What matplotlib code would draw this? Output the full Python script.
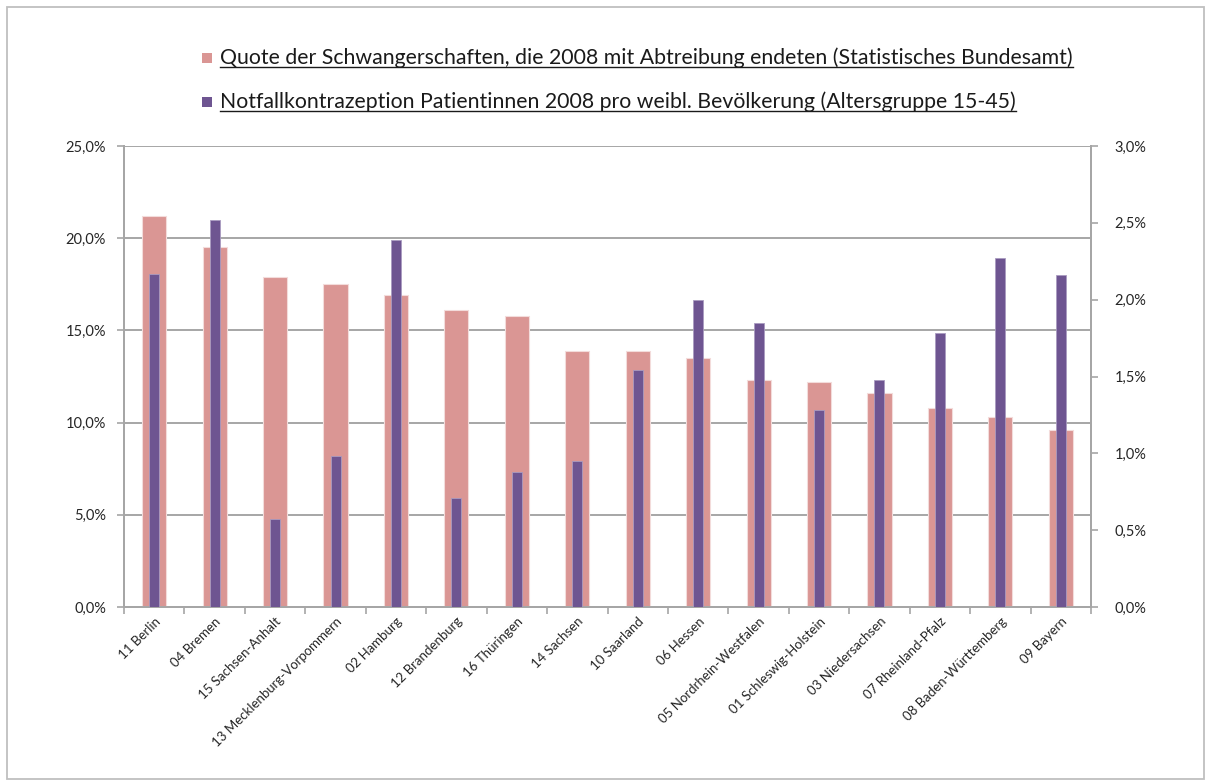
import matplotlib
matplotlib.use("Agg")
import matplotlib.pyplot as plt
from matplotlib.lines import Line2D
from matplotlib.patches import Rectangle
import numpy as np

categories = ["11 Berlin", "04 Bremen", "15 Sachsen-Anhalt", "13 Mecklenburg-Vorpommern",
              "02 Hamburg", "12 Brandenburg", "16 Thüringen", "14 Sachsen", "10 Saarland",
              "06 Hessen", "05 Nordrhein-Westfalen", "01 Schleswig-Holstein",
              "03 Niedersachsen", "07 Rheinland-Pfalz", "08 Baden-Württemberg", "09 Bayern"]
abortion_rate = [21.2, 19.5, 17.9, 17.5, 16.9, 16.1, 15.8, 13.9, 13.9, 13.5, 12.3, 12.2,
                 11.6, 10.8, 10.3, 9.6]
emergency_contraception = [2.17, 2.52, 0.57, 0.98, 2.39, 0.71, 0.88, 0.95, 1.54, 2.00,
                           1.85, 1.28, 1.48, 1.78, 2.27, 2.16]
left_ticks = [0, 5, 10, 15, 20, 25]
right_ticks = [0, 0.5, 1.0, 1.5, 2.0, 2.5, 3.0]
legend_labels = ["Quote der Schwangerschaften, die 2008 mit Abtreibung endeten (Statistisches Bundesamt)",
                 "Notfallkontrazeption Patientinnen 2008 pro weibl. Bevölkerung (Altersgruppe 15-45)"]

PINK = "#DA9694"
PURPLE = "#6E5591"
GRID = "#A6A6A6"
FONT = "Lato"

W, H = 1209, 783
fig = plt.figure(figsize=(W / 100, H / 100), dpi=100)
fig.patch.set_facecolor("white")

# chart area border
fig.add_artist(Rectangle((7 / W, 4 / H), (1204 - 7) / W, (776 - 4) / H, transform=fig.transFigure,
                         fill=False, edgecolor="#BFBFBF", linewidth=1.3))

ax = fig.add_axes([124 / W, 1 - 607 / H, (1091 - 124) / W, (607 - 146) / H])
ax2 = ax.twinx()
ax.set_zorder(1)
ax2.set_zorder(2)
ax.patch.set_visible(False)
ax2.patch.set_visible(False)

x = np.arange(len(categories))
ax.bar(x, abortion_rate, width=0.40, color=PINK, edgecolor="#F3DCDB", linewidth=0.8, zorder=3)
ax2.bar(x, emergency_contraception, width=0.165, color=PURPLE, edgecolor="#A99BC0", linewidth=0.6, zorder=3)

ax.set_xlim(-0.5, len(categories) - 0.5)
ax.set_ylim(0, 25)
ax2.set_ylim(0, 3.0)

ax.set_yticks(left_ticks)
ax.set_yticklabels([f"{v:.1f}%".replace(".", ",") for v in left_ticks], fontsize=10.5, family=FONT, color="#262626")
ax2.set_yticks(right_ticks)
ax2.set_yticklabels([f"{v:.1f}%".replace(".", ",") for v in right_ticks], fontsize=10.5, family=FONT, color="#262626")

ax.yaxis.grid(True, color=GRID, linewidth=1.4, zorder=0)
ax.set_axisbelow(True)

# x ticks at boundaries, labels at centers
ax.set_xticks(np.arange(len(categories) + 1) - 0.5)
ax.set_xticklabels([])
ax.set_xticks(x, minor=True)
ax.set_xticklabels(categories, minor=True, rotation=45, ha="right", va="top",
                   rotation_mode="anchor", fontsize=9.5, family=FONT, color="#262626")
ax.tick_params(axis="x", which="minor", length=0, pad=6)
ax.tick_params(axis="x", which="major", length=5, color=GRID, width=1.2)
ax.tick_params(axis="y", length=5, color=GRID, width=1.2, pad=8)
ax2.tick_params(axis="y", length=5, color=GRID, width=1.2, pad=12)

for a in (ax, ax2):
    for s in a.spines.values():
        s.set_color(GRID)
        s.set_linewidth(1.4)
    a.spines["top"].set_visible(False)

# legend with underlined text
fig.canvas.draw()
renderer = fig.canvas.get_renderer()
legend_y = [58, 102]
colors = [PINK, PURPLE]
for lbl, yy, c in zip(legend_labels, legend_y, colors):
    fig.add_artist(Rectangle((202 / W, 1 - (yy + 5) / H), 10 / W, 10 / H, transform=fig.transFigure,
                             facecolor=c, edgecolor="none"))
    t = fig.text(220 / W, 1 - yy / H, lbl, fontsize=15.3, family=FONT, color="#1A1A1A",
                 ha="left", va="center")
    bb = t.get_window_extent(renderer=renderer)
    uy = bb.y0 + 1
    fig.add_artist(Line2D([bb.x0 / W, bb.x1 / W], [uy / H, uy / H], transform=fig.transFigure,
                          color="#1A1A1A", linewidth=1.0))

fig.savefig("out.png", dpi=100, facecolor="white")
